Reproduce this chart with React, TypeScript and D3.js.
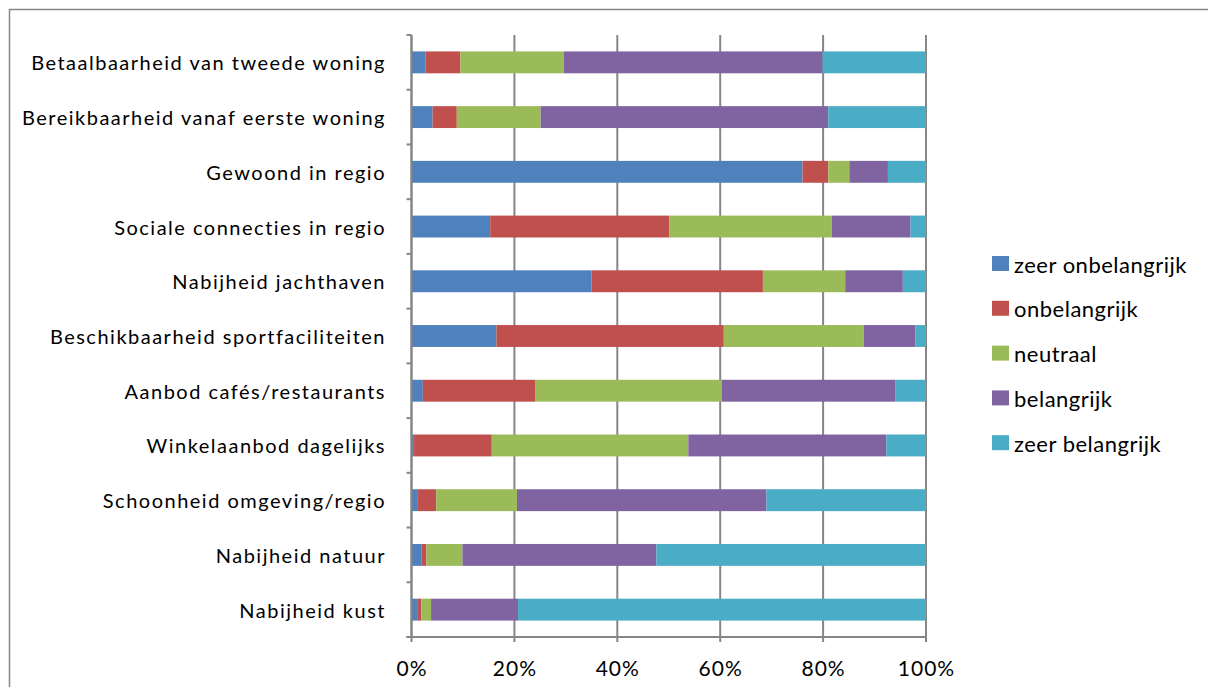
import React from "react";
import * as d3 from "d3";

const categories = [
  "Betaalbaarheid van tweede woning",
  "Bereikbaarheid vanaf eerste woning",
  "Gewoond in regio",
  "Sociale connecties in regio",
  "Nabijheid jachthaven",
  "Beschikbaarheid sportfaciliteiten",
  "Aanbod cafés/restaurants",
  "Winkelaanbod dagelijks",
  "Schoonheid omgeving/regio",
  "Nabijheid natuur",
  "Nabijheid kust",
];

const seriesNames = ["zeer onbelangrijk", "onbelangrijk", "neutraal", "belangrijk", "zeer belangrijk"];

const zeerOnbelangrijk = [2.7, 4.1, 76.0, 15.3, 35.0, 16.5, 2.2, 0.5, 1.1, 1.9, 1.1];
const onbelangrijk = [6.8, 4.7, 5.0, 34.8, 33.3, 44.2, 21.8, 15.1, 3.7, 1.0, 0.8];
const neutraal = [20.1, 16.3, 4.1, 31.6, 16.0, 27.2, 36.3, 38.2, 15.7, 7.0, 1.9];
const belangrijk = [50.3, 55.9, 7.5, 15.3, 11.2, 10.0, 33.7, 38.5, 48.5, 37.7, 16.9];
const zeerBelangrijk = [20.1, 19.0, 7.4, 3.0, 4.5, 2.1, 6.0, 7.7, 31.0, 52.4, 79.3];

const xTicks = [0, 0.2, 0.4, 0.6, 0.8, 1.0];
const colors = ["#4F81BD", "#C0504D", "#9BBB59", "#8064A2", "#4BACC6"];

export default function App() {
  const W = 1208, H = 687;
  const left = 411.5, right = 926, top = 35, bottom = 637;
  const font = "Lato, 'Open Sans', sans-serif";

  const rows = categories.map((c, i) => {
    const vals = [zeerOnbelangrijk[i], onbelangrijk[i], neutraal[i], belangrijk[i], zeerBelangrijk[i]];
    const total = d3.sum(vals);
    const obj: any = { cat: c };
    seriesNames.forEach((s, j) => (obj[s] = vals[j] / total));
    return obj;
  });
  const stacked = d3.stack().keys(seriesNames)(rows);

  const x = d3.scaleLinear().domain([0, 1]).range([left, right]);
  const y = d3.scaleBand().domain(categories).range([top, bottom]).paddingInner(0.6).paddingOuter(0.3);
  const step = y.step();
  const color = d3.scaleOrdinal<string, string>().domain(seriesNames).range(colors);
  const pct = d3.format(".0%");

  const boundaries = d3.range(categories.length + 1).map((i) => top + i * step);

  return (
    <svg width={W} height={H} style={{ position: "absolute", left: 0, top: 0, background: "#fff" }}>
      <rect x={9.5} y={9.5} width={1300} height={800} fill="#fff" stroke="#868686" strokeWidth={1.5} />
      {/* gridlines */}
      {xTicks.map((t) => (
        <line key={"g" + t} x1={x(t)} x2={x(t)} y1={top} y2={bottom + 5} stroke="#868686" strokeWidth={2} />
      ))}
      {/* bars */}
      {stacked.map((s) => (
        <g key={s.key} fill={color(s.key)}>
          {s.map((d, i) => (
            <rect
              key={i}
              x={x(d[0])}
              width={Math.max(0, x(d[1]) - x(d[0]))}
              y={y((d.data as any).cat)!}
              height={y.bandwidth()}
            />
          ))}
        </g>
      ))}
      {/* y axis */}
      <line x1={left} x2={left} y1={top} y2={bottom} stroke="#868686" strokeWidth={2} />
      {boundaries.map((b, i) => (
        <line key={"yt" + i} x1={left - 5} x2={left} y1={b} y2={b} stroke="#868686" strokeWidth={2} />
      ))}
      {/* x axis */}
      <line x1={left - 5} x2={right} y1={bottom} y2={bottom} stroke="#868686" strokeWidth={2} />
      {xTicks.map((t) => (
        <text key={"xl" + t} x={x(t) + 0.5} y={667} textAnchor="middle" dominantBaseline="central" fontFamily={font} fontSize={21} letterSpacing={1} fill="#000">
          {pct(t)}
        </text>
      ))}
      {categories.map((c) => (
        <text key={c} x={386} y={y(c)! + y.bandwidth() / 2} textAnchor="end" dominantBaseline="central" fontFamily={font} fontSize={20} letterSpacing={1.5} fill="#000">
          {c}
        </text>
      ))}
      {/* legend */}
      {seriesNames.map((s, i) => (
        <g key={s} transform={`translate(992, ${256 + i * 44.8})`}>
          <rect x={0} y={0} width={17} height={15} fill={color(s)} />
          <text x={22} y={8} dominantBaseline="central" fontFamily={font} fontSize={22} letterSpacing={0.5} fill="#000">
            {s}
          </text>
        </g>
      ))}
    </svg>
  );
}
